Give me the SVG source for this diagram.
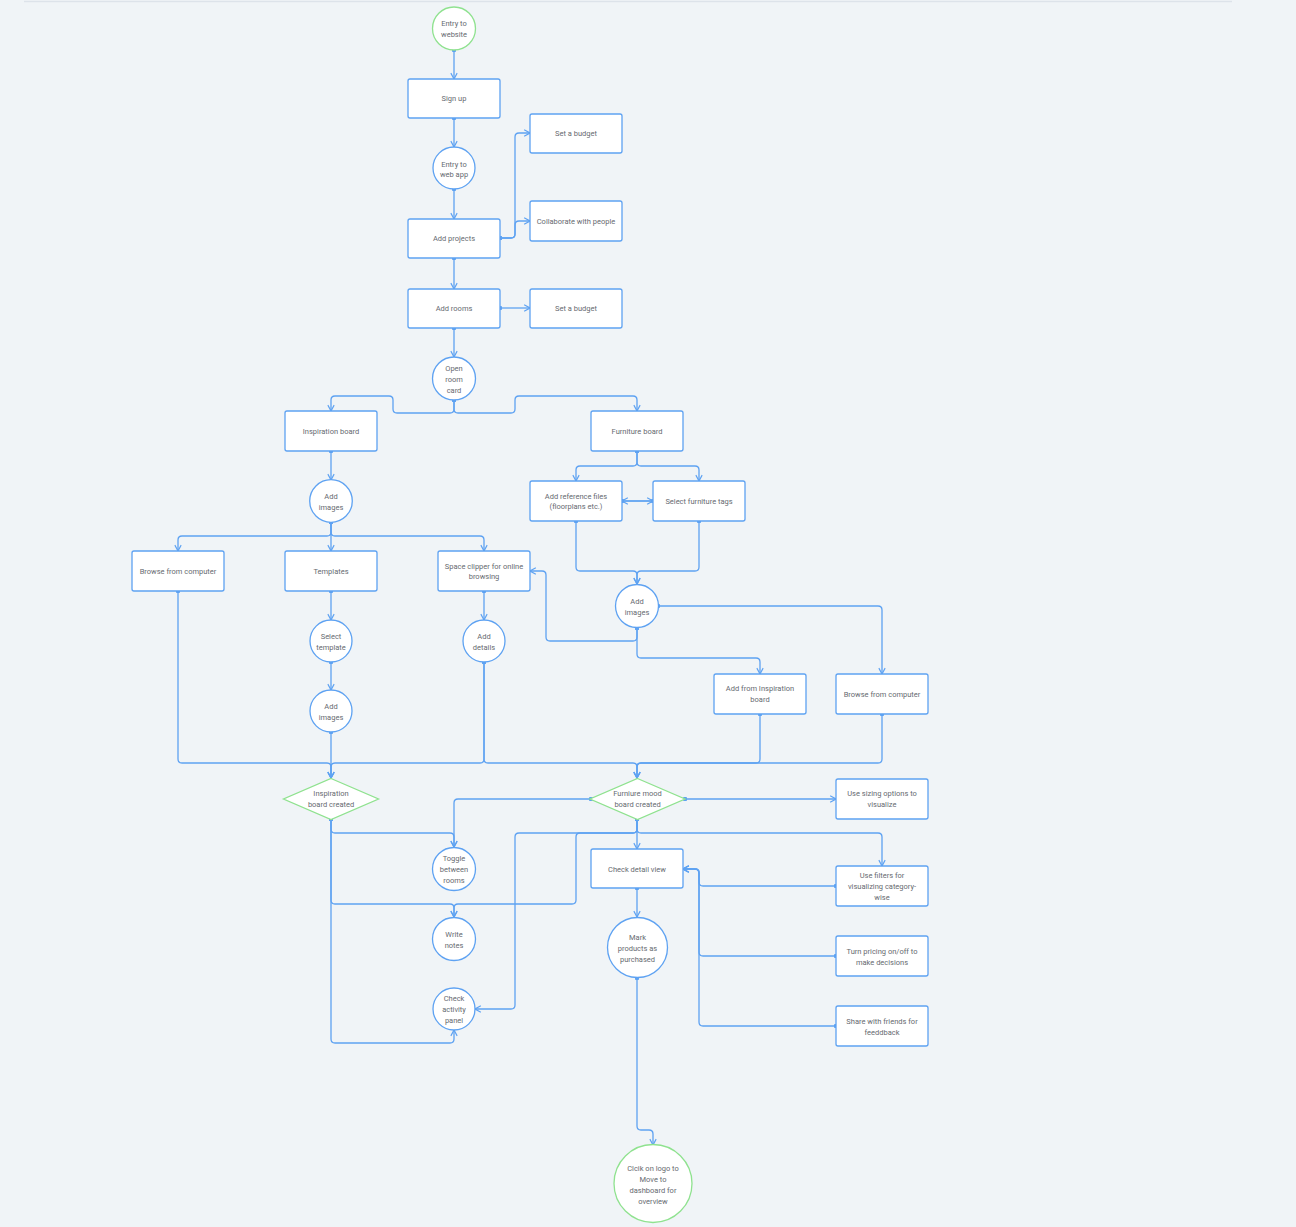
<svg xmlns="http://www.w3.org/2000/svg" width="1296" height="1227" viewBox="0 0 1296 1227">
<defs>
<style>
.n rect,.n circle{fill:#ffffff;stroke:#5ea2f2;stroke-width:1.3}
.g circle,.g polygon{fill:#ffffff;stroke:#8fe28f;stroke-width:1.3}
text{font-family:Roboto,"Liberation Sans",sans-serif;font-size:7.5px;fill:#666a70;text-anchor:middle;dominant-baseline:central}
#connectors path{fill:none;stroke:#5ea2f2;stroke-width:1.3;marker-start:url(#dot);marker-end:url(#arr)}
</style>
<marker id="arr" viewBox="0 0 10 10" refX="9" refY="5" markerWidth="9" markerHeight="9" orient="auto" markerUnits="userSpaceOnUse">
<path d="M2.5,1.5 L9,5 L2.5,8.5" fill="none" stroke="#5ea2f2" stroke-width="1.3"/>
</marker>
<marker id="dot" viewBox="0 0 6 6" refX="3" refY="3" markerWidth="4.5" markerHeight="4.5" markerUnits="userSpaceOnUse">
<circle cx="3" cy="3" r="3" fill="#5ea2f2"/>
</marker>
</defs>
<rect x="0" y="0" width="1296" height="1227" fill="#f0f4f7"/>
<line x1="24" y1="1.5" x2="1232" y2="1.5" stroke="#dde3ea" stroke-width="1.5"/>

<g id="connectors">
<path d="M454,50 V79"/>
<path d="M454,118 V147"/>
<path d="M454,189 V219"/>
<path d="M500,238 H511 Q515,238 515,234 V137 Q515,133 519,133 H530"/>
<path d="M500,238 H511 Q515,238 515,234 V225 Q515,221 519,221 H530"/>
<path d="M454,258 V289"/>
<path d="M500,308 H530"/>
<path d="M454,328 V357"/>
<path d="M454,400 V409 Q454,413 450,413 H397 Q393,413 393,409 V400 Q393,396 389,396 H335 Q331,396 331,400 V411"/>
<path d="M454,400 V409 Q454,413 458,413 H511 Q515,413 515,409 V400 Q515,396 519,396 H633 Q637,396 637,400 V411"/>
<path d="M331,451 V480"/>
<path d="M331,522 V532 Q331,536 327,536 H182 Q178,536 178,540 V551"/>
<path d="M331,522 V551"/>
<path d="M331,522 V532 Q331,536 335,536 H480 Q484,536 484,540 V551"/>
<path d="M331,591 V620"/>
<path d="M331,662 V690"/>
<path d="M484,591 V620"/>
<path d="M178,591 V759 Q178,763 182,763 H327 Q331,763 331,767 V778"/>
<path d="M331,732 V778"/>
<path d="M484,662 V759 Q484,763 480,763 H335 Q331,763 331,767 V778"/>
<path d="M484,662 V759 Q484,763 488,763 H633 Q637,763 637,767 V778"/>
<path d="M637,451 V462 Q637,466 633,466 H580 Q576,466 576,470 V481"/>
<path d="M637,451 V462 Q637,466 641,466 H695 Q699,466 699,470 V481"/>
<path d="M622,501 H653"/>
<path d="M653,501 H622"/>
<path d="M576,521 V567 Q576,571 580,571 H633 Q637,571 637,575 V584"/>
<path d="M699,521 V567 Q699,571 695,571 H641 Q637,571 637,575 V584"/>
<path d="M637,628 V637 Q637,641 633,641 H550 Q546,641 546,637 V575 Q546,571 542,571 H530"/>
<path d="M637,628 V654 Q637,658 641,658 H756 Q760,658 760,662 V674"/>
<path d="M658,606 H878 Q882,606 882,610 V674"/>
<path d="M760,714 V759 Q760,763 756,763 H641 Q637,763 637,767 V778"/>
<path d="M882,714 V759 Q882,763 878,763 H641 Q637,763 637,767 V778"/>
<path d="M591,799 H458 Q454,799 454,803 V847"/>
<path d="M685,799 H836"/>
<path d="M331,819 V829 Q331,833 335,833 H450 Q454,833 454,837 V847"/>
<path d="M331,819 V900 Q331,904 335,904 H450 Q454,904 454,908 V917"/>
<path d="M331,819 V1039 Q331,1043 335,1043 H450 Q454,1043 454,1039 V1030"/>
<path d="M637,819 V829 Q637,833 633,833 H519 Q515,833 515,837 V1005 Q515,1009 511,1009 H475"/>
<path d="M637,819 V829 Q637,833 633,833 H580 Q576,833 576,837 V900 Q576,904 572,904 H458 Q454,904 454,908 V917"/>
<path d="M637,819 V849"/>
<path d="M637,819 V829 Q637,833 641,833 H878 Q882,833 882,837 V866"/>
<path d="M637,888 V917"/>
<path d="M836,886 H703 Q699,886 699,882 V873 Q699,869 695,869 H683"/>
<path d="M836,956 H703 Q699,956 699,952 V873 Q699,869 695,869 H683"/>
<path d="M836,1026 H703 Q699,1026 699,1022 V873 Q699,869 695,869 H683"/>
<path d="M637,978 V1126 Q637,1130 641,1130 H649 Q653,1130 653,1134 V1145"/>
</g>

<g id="entry-website" class="g"><circle cx="454" cy="28.5" r="21.5"/><text x="454" y="23">Entry to</text><text x="454" y="34">website</text></g>
<g id="sign-up" class="n"><rect x="408" y="79" width="92" height="39" rx="2"/><text x="454" y="98.5">Sign up</text></g>
<g id="entry-webapp" class="n"><circle cx="454" cy="168" r="21"/><text x="454" y="164">Entry to</text><text x="454" y="174.5">web app</text></g>
<g id="set-budget-1" class="n"><rect x="530" y="114" width="92" height="39" rx="2"/><text x="576" y="133.5">Set a budget</text></g>
<g id="collaborate" class="n"><rect x="530" y="201" width="92" height="40" rx="2"/><text x="576" y="221">Collaborate with people</text></g>
<g id="add-projects" class="n"><rect x="408" y="219" width="92" height="39" rx="2"/><text x="454" y="238.5">Add projects</text></g>
<g id="add-rooms" class="n"><rect x="408" y="289" width="92" height="39" rx="2"/><text x="454" y="308.5">Add rooms</text></g>
<g id="set-budget-2" class="n"><rect x="530" y="289" width="92" height="39" rx="2"/><text x="576" y="308.5">Set a budget</text></g>
<g id="open-room-card" class="n"><circle cx="454" cy="378.5" r="21.5"/><text x="454" y="368">Open</text><text x="454" y="379">room</text><text x="454" y="390">card</text></g>
<g id="inspiration-board" class="n"><rect x="285" y="411" width="92" height="40" rx="2"/><text x="331" y="431">Inspiration board</text></g>
<g id="furniture-board" class="n"><rect x="591" y="411" width="92" height="40" rx="2"/><text x="637" y="431">Furniture board</text></g>
<g id="add-images-1" class="n"><circle cx="331" cy="501" r="21.3"/><text x="331" y="496">Add</text><text x="331" y="507">images</text></g>
<g id="browse-left" class="n"><rect x="132" y="551" width="92" height="40" rx="2"/><text x="178" y="571">Browse from computer</text></g>
<g id="templates" class="n"><rect x="285" y="551" width="92" height="40" rx="2"/><text x="331" y="571">Templates</text></g>
<g id="space-clipper" class="n"><rect x="438" y="551" width="92" height="40" rx="2"/><text x="484" y="566">Space clipper for online</text><text x="484" y="576.5">browsing</text></g>
<g id="add-reference" class="n"><rect x="530" y="481" width="92" height="40" rx="2"/><text x="576" y="496">Add reference files</text><text x="576" y="506.5">(floorplans etc.)</text></g>
<g id="furniture-tags" class="n"><rect x="653" y="481" width="92" height="40" rx="2"/><text x="699" y="501">Select furniture tags</text></g>
<g id="add-images-right" class="n"><circle cx="637" cy="606" r="21.5"/><text x="637" y="601">Add</text><text x="637" y="612">images</text></g>
<g id="select-template" class="n"><circle cx="331" cy="641" r="21"/><text x="331" y="636">Select</text><text x="331" y="647">template</text></g>
<g id="add-details" class="n"><circle cx="484" cy="641" r="21"/><text x="484" y="636">Add</text><text x="484" y="647">details</text></g>
<g id="add-images-2" class="n"><circle cx="331" cy="711" r="21"/><text x="331" y="706">Add</text><text x="331" y="717">images</text></g>
<g id="add-from-inspiration" class="n"><rect x="714" y="674" width="92" height="40" rx="2"/><text x="760" y="688.5">Add from Inspiration</text><text x="760" y="699">board</text></g>
<g id="browse-right" class="n"><rect x="836" y="674" width="92" height="40" rx="2"/><text x="882" y="694">Browse from computer</text></g>
<g id="inspiration-created" class="g"><polygon points="331,778.5 378.5,799 331,819.5 283.5,799"/><text x="331" y="793.5">Inspiration</text><text x="331" y="804">board created</text></g>
<g id="furniture-created" class="g"><polygon points="637.5,778.5 685,799 637.5,819.5 590,799"/><text x="637.5" y="793.5">Furniure mood</text><text x="637.5" y="804">board created</text></g>
<g id="sizing" class="n"><rect x="836" y="779" width="92" height="40" rx="2"/><text x="882" y="793.5">Use sizing options to</text><text x="882" y="804">visualize</text></g>
<g id="toggle-rooms" class="n"><circle cx="454" cy="869" r="21.5"/><text x="454" y="858">Toggle</text><text x="454" y="869">between</text><text x="454" y="880">rooms</text></g>
<g id="check-detail" class="n"><rect x="591" y="849" width="92" height="39" rx="2"/><text x="637" y="869">Check detail view</text></g>
<g id="filters" class="n"><rect x="836" y="866" width="92" height="40" rx="2"/><text x="882" y="875">Use filters for</text><text x="882" y="886">visualizing category-</text><text x="882" y="897">wise</text></g>
<g id="write-notes" class="n"><circle cx="454" cy="939" r="21.5"/><text x="454" y="934">Write</text><text x="454" y="945">notes</text></g>
<g id="mark-purchased" class="n"><circle cx="637.5" cy="947.5" r="30"/><text x="637.5" y="937">Mark</text><text x="637.5" y="948">products as</text><text x="637.5" y="959">purchased</text></g>
<g id="pricing" class="n"><rect x="836" y="936" width="92" height="40" rx="2"/><text x="882" y="951">Turn pricing on/off to</text><text x="882" y="962">make decisions</text></g>
<g id="share" class="n"><rect x="836" y="1006" width="92" height="40" rx="2"/><text x="882" y="1021">Share with friends for</text><text x="882" y="1032">feeddback</text></g>
<g id="activity-panel" class="n"><circle cx="454" cy="1009" r="21"/><text x="454" y="998">Check</text><text x="454" y="1009">activity</text><text x="454" y="1020">panel</text></g>
<g id="click-logo" class="g"><circle cx="653" cy="1183.5" r="39"/><text x="653" y="1168">Clcik on logo to</text><text x="653" y="1179">Move to</text><text x="653" y="1190">dashboard for</text><text x="653" y="1201">overview</text></g>
</svg>
